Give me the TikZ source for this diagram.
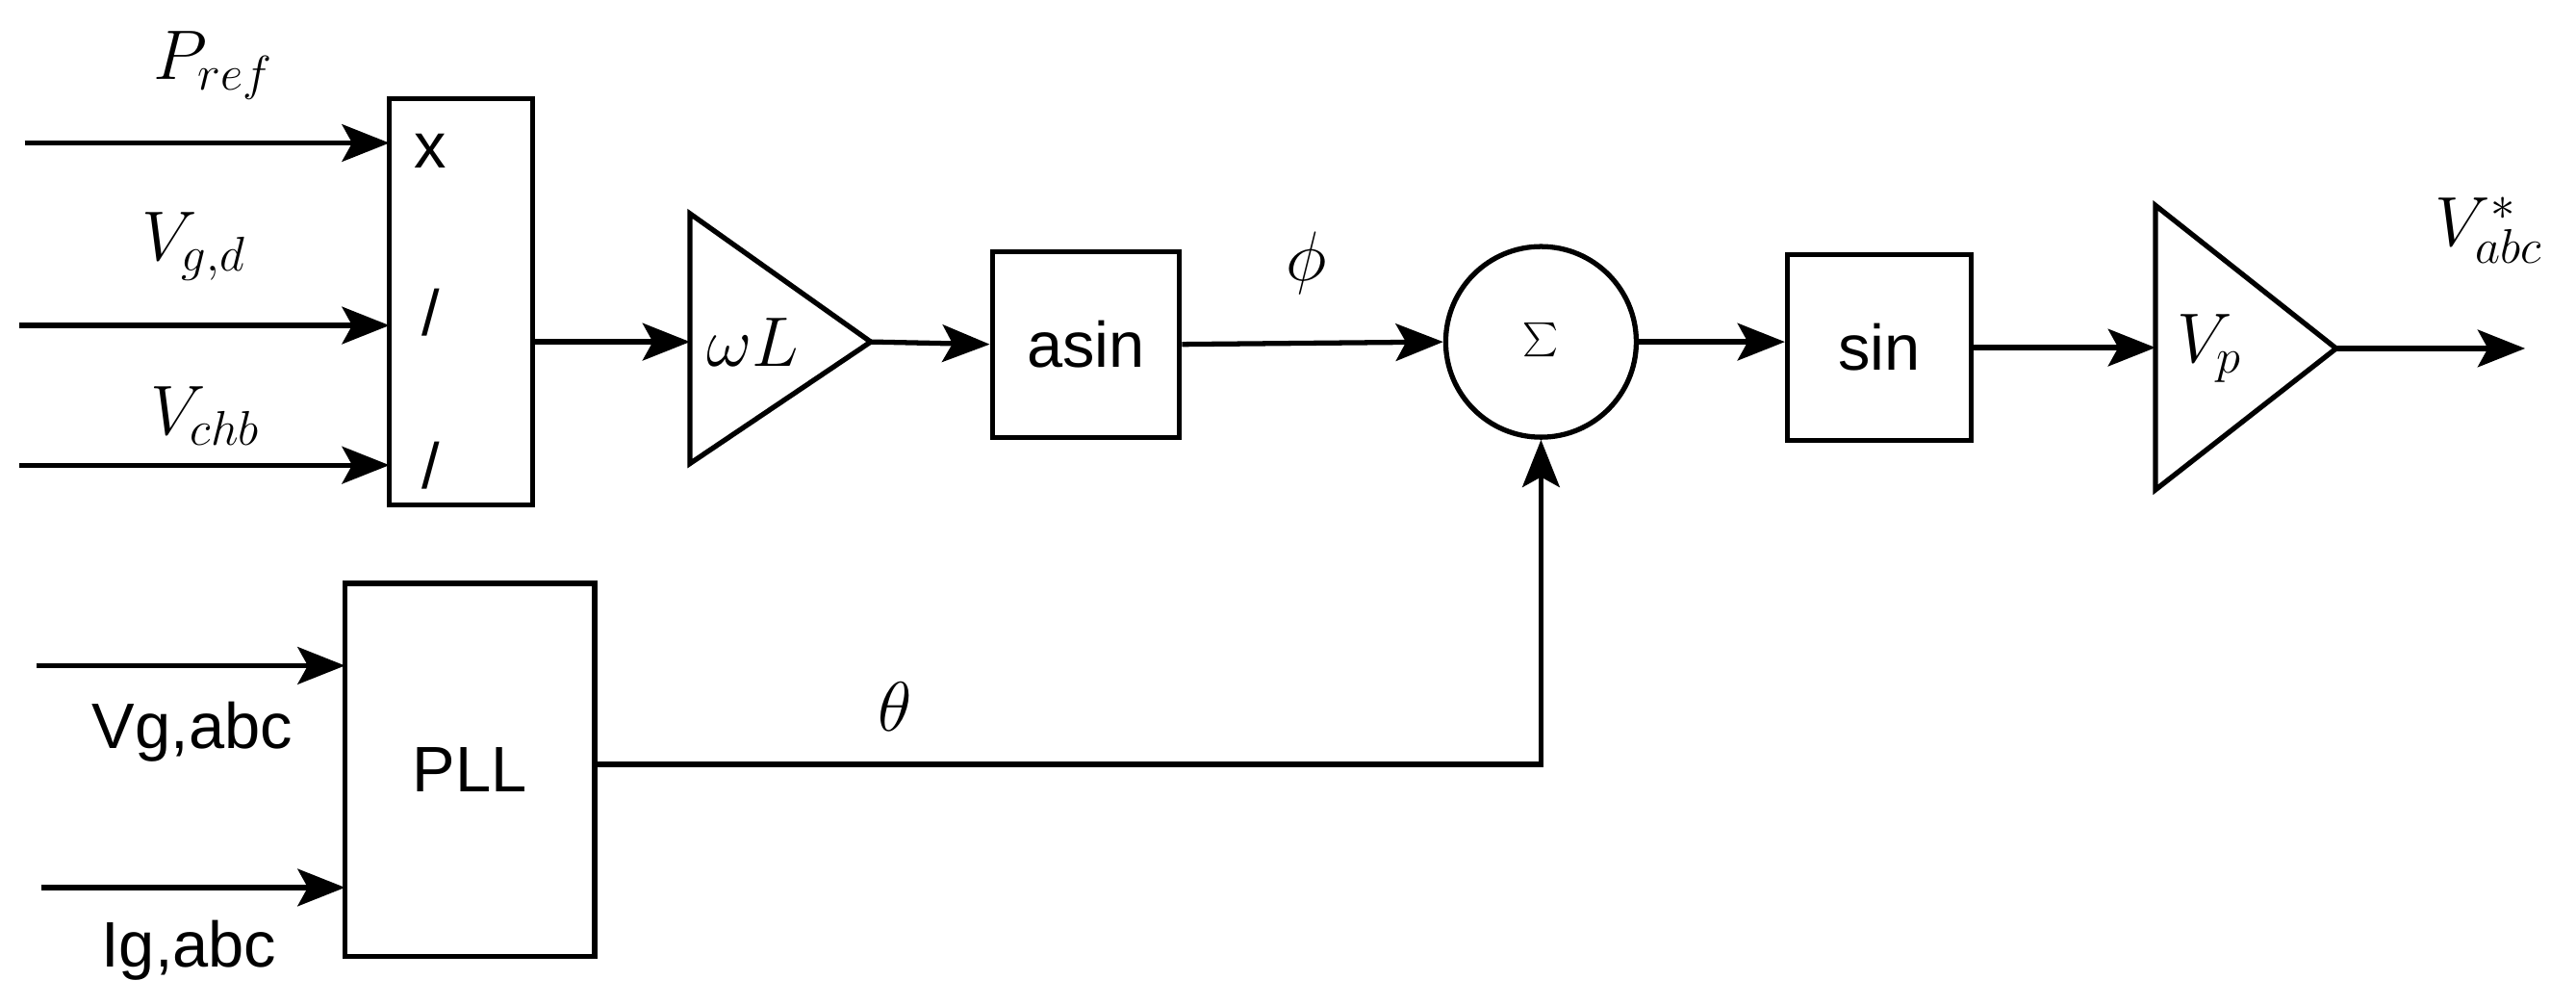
\documentclass[tikz,border=0pt]{standalone}
\usepackage{fontspec}
\setmainfont{Liberation Sans}
\usetikzlibrary{arrows.meta}
\begin{document}
\begin{tikzpicture}[x=0.1707mm,y=-0.1707mm,
  line width=1.5pt,
  arr/.style={-{Stealth[length=14pt,width=11pt,inset=3pt]}},
  lbl/.style={font=\fontsize{22}{26}\selectfont},
  txt/.style={font=\fontsize{19}{22}\selectfont}]
\useasboundingbox (0,0) rectangle (1568,612);
% mult/div box
\draw (237,60) rectangle (324,307);
\node[txt] at (262,92) {x};
\node[txt] at (262,190) {/};
\node[txt] at (262,283) {/};
\coordinate (i1) at (15,87); \coordinate (e1) at (237,87);
\coordinate (i2) at (12,198); \coordinate (e2) at (237,198);
\coordinate (i3) at (12,283); \coordinate (e3) at (237,283);
\draw[arr] (i1) -- (e1);
\draw[arr] (i2) -- (e2);
\draw[arr] (i3) -- (e3);
\node[lbl] at (130,40) {$P_{ref}$};
\node[lbl] at (118,150) {$V_{g,d}$};
\node[lbl] at (125,253) {$V_{chb}$};
% gain wL
\draw (420,130) -- (530,208) -- (420,282) -- cycle;
\node[lbl] at (458,208) {$\omega L$};
\coordinate (m1) at (324,208); \coordinate (g1) at (420,208);
\draw[arr] (m1) -- (g1);
% asin
\node[draw,minimum width=114*0.1707mm,minimum height=113*0.1707mm,txt,inner sep=0] (asin) at (661,209.5) {asin};
\coordinate (g1o) at (530,208);
\draw[arr] (g1o) -- (asin.west);
% sum
\node[draw,circle,minimum size=116*0.1707mm,inner sep=0,font=\fontsize{40}{44}\selectfont] (sum) at (938,208) {$\sum$};
\draw[arr] (asin.east) -- (sum.west);
\node[lbl] at (795,160) {$\phi$};
% sin
\node[draw,minimum width=112*0.1707mm,minimum height=113*0.1707mm,txt,inner sep=0] (sin) at (1144,211.5) {sin};
\draw[arr] (sum.east) -- (sin.west |- sum.east);
% Vp
\draw (1312,125) -- (1422,212) -- (1312,298) -- cycle;
\node[lbl] at (1345,212) {$V_p$};
\coordinate (g2) at (1312,211.5); \coordinate (g2o) at (1422,212); \coordinate (out) at (1537,212);
\draw[arr] (sin.east) -- (g2);
\draw[arr] (g2o) -- (out);
\node[lbl] at (1515,140) {$V^*_{abc}$};
% PLL
\node[draw,minimum width=152*0.1707mm,minimum height=227*0.1707mm,txt,inner sep=0] (pll) at (286,468.5) {PLL};
\coordinate (p1) at (22,405); \coordinate (p1e) at (210,405);
\coordinate (p2) at (25,540); \coordinate (p2e) at (210,540);
\draw[arr] (p1) -- (p1e);
\draw[arr] (p2) -- (p2e);
\node[txt] at (117,445) {Vg,abc};
\node[txt] at (115,578) {Ig,abc};
\coordinate (pc) at (362,465); \coordinate (cn) at (938,465);
\draw[arr] (pc) -- (cn) -- (sum.south);
\node[lbl] at (545,430) {$\theta$};
\end{tikzpicture}
\end{document}
